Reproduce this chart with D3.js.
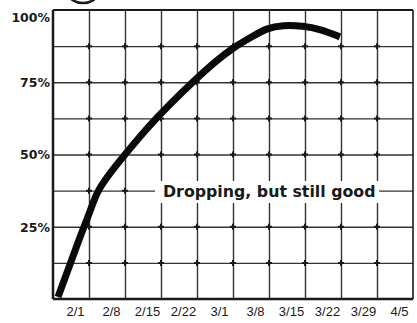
<!DOCTYPE html>
<html>
<head>
<meta charset="utf-8">
<script src="https://cdn.jsdelivr.net/npm/d3@7/dist/d3.min.js"></script>
<style>
  html, body { margin: 0; padding: 0; background: #fff; }
  svg { display: block; }
</style>
</head>
<body>
<script>
// Weekly tick labels (grid column k = week k after the start)
const weekLabels = ["2/1", "2/8", "2/15", "2/22", "3/1", "3/8", "3/15", "3/22", "3/29", "4/5"];
const weekTicks = [1, 2, 3, 4, 5, 6, 7, 8, 9, 10];

// Percent axis labels and grid rows
const pctTicks = [25, 50, 75, 100];
const pctGrid = [12.5, 25, 37.5, 50, 62.5, 75, 87.5];

// Curve: weeks since start vs percent
const curveWeeks = [0.14, 0.75, 0.97, 1.11, 1.25, 1.58, 2.03, 2.69, 3.25, 3.94, 4.56, 5.0, 5.47, 5.94, 6.39, 6.94, 7.42, 7.97];
const curvePct   = [0.7, 21.5, 28.4, 33.2, 37.7, 43.6, 50.5, 60.2, 67.5, 75.8, 82.7, 86.9, 90.3, 93.8, 94.8, 94.5, 93.4, 90.7];

const note = "Dropping, but still good";

const W = 417, H = 323;
const svg = d3.select("body").append("svg").attr("width", W).attr("height", H);

const x = d3.scaleLinear().domain([0, 10]).range([53, 413]);
const y = d3.scaleLinear().domain([0, 100]).range([299, 10]);

const ink = "#1a1a1a";

// partial circled figure number peeking in at the top
svg.append("ellipse")
  .attr("cx", 83).attr("cy", -6).attr("rx", 14).attr("ry", 9)
  .attr("fill", "none").attr("stroke", ink).attr("stroke-width", 2.5);

// grid
const gridV = svg.append("g").attr("transform", `translate(0,${y(0)})`)
  .call(d3.axisBottom(x).tickValues(weekTicks.slice(0, -1)).tickSize(-(y(0) - y(100))).tickFormat(""));
const gridH = svg.append("g").attr("transform", `translate(${x(0)},0)`)
  .call(d3.axisLeft(y).tickValues(pctGrid).tickSize(-(x(10) - x(0))).tickFormat(""));
[gridV, gridH].forEach(g => {
  g.select(".domain").remove();
  g.selectAll(".tick line").attr("stroke", "#333").attr("stroke-width", 1.4);
});

// small crosses at grid intersections
const crosses = [];
weekTicks.slice(0, -1).forEach(w => pctGrid.forEach(p => crosses.push([w, p])));
svg.append("g").selectAll("path").data(crosses).join("path")
  .attr("d", d => {
    const cx = x(d[0]), cy = y(d[1]);
    return `M${cx - 3},${cy}H${cx + 3}M${cx},${cy - 3}V${cy + 3}`;
  })
  .attr("stroke", ink).attr("stroke-width", 2);

// frame
svg.append("path")
  .attr("d", `M${x(0)},${y(0)}H${x(10)}`).attr("stroke", ink).attr("stroke-width", 2.5);
svg.append("path")
  .attr("d", `M${x(0)},${y(0)}V${y(100)}`).attr("stroke", ink).attr("stroke-width", 2.5);
svg.append("path")
  .attr("d", `M${x(0)},${y(100)}H${x(10)}`).attr("stroke", ink).attr("stroke-width", 2);
svg.append("path")
  .attr("d", `M${x(10)},${y(100)}V${y(0)}`).attr("stroke", ink).attr("stroke-width", 1.6);

// annotation with white backing
const noteG = svg.append("g");
const noteBg = noteG.append("rect").attr("fill", "#fff");
const noteT = noteG.append("text")
  .attr("x", 163).attr("y", 197)
  .attr("font-family", "DejaVu Sans, sans-serif")
  .attr("font-weight", "bold").attr("font-size", 15.8)
  .attr("fill", ink).text(note);
const bb = noteT.node().getBBox();
noteBg.attr("x", bb.x - 8).attr("y", bb.y - 1).attr("width", bb.width + 12).attr("height", bb.height + 3);

// the curve
const pts = curveWeeks.map((w, i) => [w, curvePct[i]]);
svg.append("path")
  .datum(pts)
  .attr("d", d3.line().x(d => x(d[0])).y(d => y(d[1])).curve(d3.curveBasis))
  .attr("fill", "none").attr("stroke", "#0a0a0a").attr("stroke-width", 7)
  .attr("stroke-linejoin", "round");

// x labels
const xAxis = svg.append("g").attr("transform", `translate(0,${y(0)})`)
  .call(d3.axisBottom(x).tickValues(weekTicks).tickSize(0).tickPadding(8)
    .tickFormat((d, i) => weekLabels[i]));
xAxis.select(".domain").remove();
xAxis.selectAll("text")
  .attr("dx", -14)
  .attr("font-family", "Liberation Sans Narrow, Arial Narrow, sans-serif")
  .attr("font-size", 13).attr("fill", ink);

// y labels
const yAxis = svg.append("g").attr("transform", `translate(${x(0)},0)`)
  .call(d3.axisLeft(y).tickValues(pctTicks).tickSize(0).tickPadding(3)
    .tickFormat(d => d + "%"));
yAxis.select(".domain").remove();
yAxis.selectAll("text")
  .attr("font-family", "DejaVu Sans, sans-serif")
  .attr("font-weight", "bold").attr("font-size", 12.5).attr("fill", ink)
  .attr("dy", d => d === 100 ? "0.95em" : "0.35em");
</script>
</body>
</html>
